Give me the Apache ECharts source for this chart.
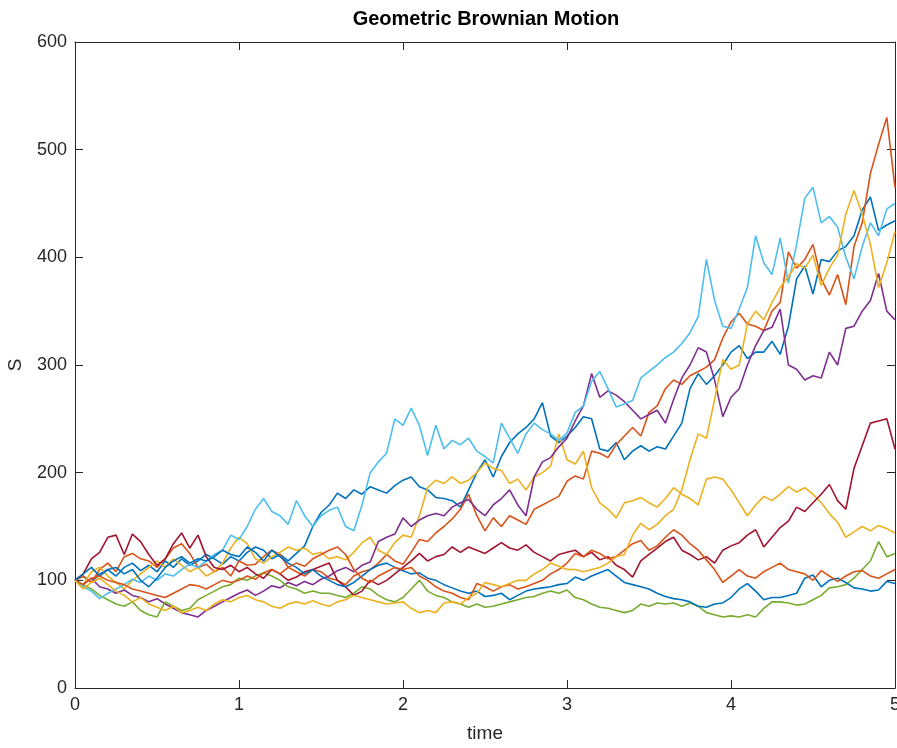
<!DOCTYPE html>
<html>
<head>
<meta charset="utf-8">
<script src="https://cdn.jsdelivr.net/npm/echarts@6/dist/echarts.min.js"></script>
<style>html,body{margin:0;padding:0;background:#fff}#c{width:897px;height:748px}</style>
</head>
<body>
<div id="c"></div>
<script>
const times = [
0,0.05,0.1,0.15,0.2,0.25,0.3,0.35,0.4,0.45,
0.5,0.55,0.6,0.65,0.7,0.75,0.8,0.85,0.9,0.95,
1,1.05,1.1,1.15,1.2,1.25,1.3,1.35,1.4,1.45,
1.5,1.55,1.6,1.65,1.7,1.75,1.8,1.85,1.9,1.95,
2,2.05,2.1,2.15,2.2,2.25,2.3,2.35,2.4,2.45,
2.5,2.55,2.6,2.65,2.7,2.75,2.8,2.85,2.9,2.95,
3,3.05,3.1,3.15,3.2,3.25,3.3,3.35,3.4,3.45,
3.5,3.55,3.6,3.65,3.7,3.75,3.8,3.85,3.9,3.95,
4,4.05,4.1,4.15,4.2,4.25,4.3,4.35,4.4,4.45,
4.5,4.55,4.6,4.65,4.7,4.75,4.8,4.85,4.9,4.95,
5];

const blueA = [
100,104,98,106,110,104,112,116,109,114,
108,118,112,120,114,118,124,120,115,122,
118,126,131,128,120,124,118,125,132,150,
163,170,181,176,184,180,187,184,181,188,
193,196,187,184,177,176,174,168,184,200,
212,196,215,228,236,242,250,265,234,228,
234,242,252,250,222,220,228,212,220,225,
220,224,222,234,246,278,292,282,290,300,
312,318,306,312,312,322,310,336,380,392,
366,398,396,406,410,420,444,456,425,430,
434];

const orangeA = [
100,104,98,110,116,108,122,125,120,118,
112,120,130,134,125,112,115,108,112,104,
118,114,115,122,128,124,112,108,104,110,
108,102,100,96,104,108,110,116,124,118,
115,126,138,136,144,150,157,166,180,160,
146,158,150,160,156,152,166,170,174,178,
192,197,194,220,218,214,226,234,242,234,
256,262,278,286,282,290,294,298,305,325,
340,348,338,336,332,350,358,405,390,398,
412,380,365,384,356,410,432,478,505,530,
465];

const yellowA = [
100,96,108,112,104,98,92,100,106,112,
118,112,120,114,108,112,104,108,116,130,
140,134,120,116,122,126,131,128,130,124,
126,120,122,119,126,135,140,128,124,135,
142,140,160,186,193,190,196,190,193,200,
209,204,202,190,194,184,196,200,206,236,
212,208,220,186,172,166,158,172,174,177,
172,168,176,186,180,176,170,194,196,194,
184,172,160,170,178,174,180,187,182,186,
180,172,162,154,140,145,150,146,151,148,
144];

const purple = [
100,96,102,94,92,88,91,86,84,80,
83,78,74,70,68,66,72,76,80,84,
88,91,86,90,95,93,98,95,99,96,
101,104,109,112,108,114,117,136,140,143,
158,150,156,160,162,160,168,172,175,166,
160,170,176,184,170,160,196,210,214,224,
232,248,262,292,270,276,272,266,258,250,
254,258,246,268,288,300,316,312,286,252,
270,278,300,318,332,335,352,300,296,286,
290,288,312,300,334,336,350,360,385,350,
342];

const green = [
100,96,92,86,82,78,76,80,72,68,
66,80,76,72,74,82,86,90,94,96,
102,100,104,107,104,100,94,92,88,90,
88,88,86,84,88,94,92,86,82,80,
84,92,100,90,86,84,80,78,75,78,
75,76,78,80,82,84,85,88,90,88,
91,84,82,78,75,74,72,70,72,78,
76,79,78,79,76,79,76,70,68,66,
67,66,68,66,74,80,80,79,77,78,
82,86,93,94,96,102,110,118,136,122,
125];

const lightBlue = [
100,94,90,83,88,92,96,101,98,104,
100,106,104,110,115,112,118,124,128,142,
138,150,166,176,164,160,152,174,160,150,
160,165,168,150,146,170,200,210,218,250,
244,260,244,216,244,222,230,226,232,220,
215,209,246,232,218,236,246,240,236,230,
237,256,262,285,294,278,261,264,267,288,
294,300,307,312,320,330,345,398,360,336,
334,352,372,420,395,384,418,376,412,455,
465,432,438,428,400,380,410,432,420,445,
450];

const darkRed = [
100,106,120,126,140,142,124,143,136,124,
114,120,134,144,130,142,122,112,110,114,
108,112,106,102,110,106,100,103,108,110,
113,116,100,94,86,90,100,96,100,106,
112,118,125,118,122,124,131,126,131,128,
125,130,135,130,128,133,126,122,118,124,
126,128,122,126,119,122,114,110,103,118,
124,130,136,140,128,124,119,122,116,128,
132,135,142,147,131,140,149,155,168,164,
172,180,189,174,166,204,225,246,248,250,
222];

const blueB = [
100,106,112,104,110,112,106,110,100,94,
102,112,118,122,116,120,118,122,128,124,
122,131,126,118,128,122,116,112,106,110,
104,100,96,94,98,104,110,114,116,112,
109,106,107,102,100,96,93,90,88,90,
85,86,88,82,86,90,92,93,94,96,
97,103,100,104,107,110,104,98,96,94,
92,88,85,83,82,80,76,75,78,79,
84,92,97,90,82,84,84,86,88,102,
105,94,100,102,98,93,92,90,91,99,
97];

const orangeB = [
100,96,102,104,100,98,96,92,90,88,
86,84,88,92,96,95,92,96,100,98,
100,104,101,107,110,106,112,116,113,120,
124,128,131,124,110,102,98,104,108,112,
110,112,104,100,94,90,88,84,82,97,
94,90,94,96,92,94,97,100,106,110,
116,125,122,128,125,120,122,128,134,137,
128,132,140,147,142,134,128,119,110,98,
104,110,104,102,108,112,116,110,108,106,
100,109,104,99,104,108,109,104,102,106,
110];

const yellowB = [
100,92,98,102,96,90,86,80,84,78,
75,72,76,70,72,75,72,78,82,80,
84,86,82,80,76,74,78,80,78,81,
78,76,80,82,86,84,82,80,78,79,
80,74,70,72,70,79,80,78,84,88,
98,96,94,97,100,100,106,110,116,113,
110,110,108,110,112,116,122,124,142,153,
147,152,160,166,184,212,236,232,268,305,
296,300,338,350,342,358,372,382,394,390,
402,374,390,402,440,462,440,412,372,395,
424];

const xTicks = [0,1,2,3,4,5];
const yTicks = [0,100,200,300,400,500,600];

const seriesDefs = [
  {name:'path 1', vals: blueA, color:'#0072BD'},
  {name:'path 2', vals: orangeA, color:'#D95319'},
  {name:'path 3', vals: yellowA, color:'#EDB120'},
  {name:'path 4', vals: purple, color:'#7E2F8E'},
  {name:'path 5', vals: green, color:'#77AC30'},
  {name:'path 6', vals: lightBlue, color:'#4DBEEE'},
  {name:'path 7', vals: darkRed, color:'#A2142F'},
  {name:'path 8', vals: blueB, color:'#0072BD'},
  {name:'path 9', vals: orangeB, color:'#D95319'},
  {name:'path 10', vals: yellowB, color:'#EDB120'}
];

const axisColor = '#262626';
const font = '"Liberation Sans", Arial, Helvetica, sans-serif';

function baseAxis(extra){
  return Object.assign({
    type:'value',
    axisLine:{show:true, onZero:false, lineStyle:{color:axisColor, width:1}},
    axisTick:{show:true, inside:true, length:8, lineStyle:{color:axisColor, width:1}},
    splitLine:{show:false},
    axisLabel:{color:axisColor, fontSize:18, fontFamily:font}
  }, extra);
}

const chart = echarts.init(document.getElementById('c'), null, {renderer:'canvas'});
chart.setOption({
  animation:false,
  backgroundColor:'#ffffff',
  title:{
    text:'Geometric Brownian Motion',
    left:481, top:4, textAlign:'center',
    textStyle:{fontFamily:font, fontWeight:'bold', fontSize:20, color:'#000'}
  },
  grid:{left:75, right:2, top:42, bottom:60, containLabel:false, outerBoundsMode:'none'},
  xAxis:[
    baseAxis({min:xTicks[0], max:xTicks[xTicks.length-1], interval:1, position:'bottom',
      axisLabel:{color:axisColor, fontSize:18, fontFamily:font, margin:8},
      name:'time', nameLocation:'middle', nameGap:36,
      nameTextStyle:{color:axisColor, fontSize:19, fontFamily:font}}),
    baseAxis({min:xTicks[0], max:xTicks[xTicks.length-1], interval:1, position:'top',
      axisLabel:{show:false}})
  ],
  yAxis:[
    baseAxis({min:yTicks[0], max:yTicks[yTicks.length-1], interval:100, position:'left',
      axisLabel:{color:axisColor, fontSize:18, fontFamily:font, margin:8},
      name:'S', nameLocation:'middle', nameGap:50, nameRotate:90,
      nameTextStyle:{color:axisColor, fontSize:19, fontFamily:font}}),
    baseAxis({min:yTicks[0], max:yTicks[yTicks.length-1], interval:100, position:'right',
      axisLabel:{show:false}})
  ],
  series: seriesDefs.map(d => ({
    name:d.name,
    type:'line',
    xAxisIndex:0, yAxisIndex:0,
    symbol:'none', showSymbol:false,
    smooth:false,
    lineStyle:{color:d.color, width:1.6},
    itemStyle:{color:d.color},
    data: d.vals.map((v,i) => [times[i], v])
  }))
});
</script>
</body>
</html>
